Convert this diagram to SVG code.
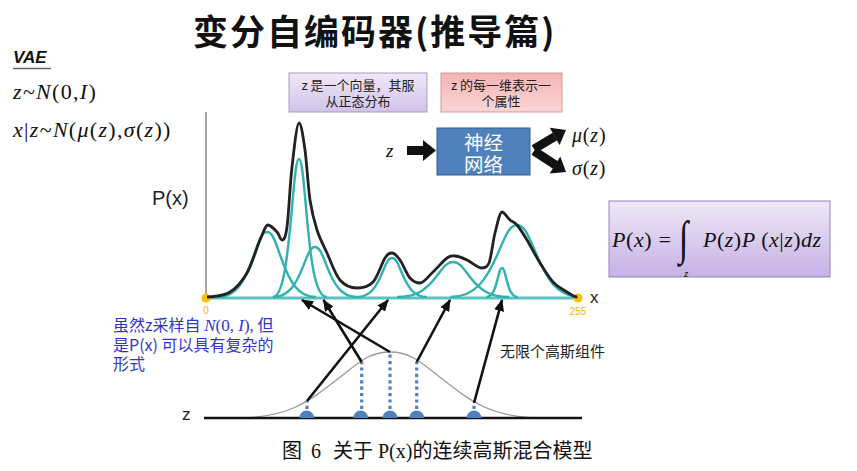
<svg xmlns="http://www.w3.org/2000/svg" width="857" height="471" viewBox="0 0 857 471">
<style>
.sans{font-family:"Liberation Sans","Noto Sans CJK SC",sans-serif}
.cjk{font-family:"Noto Sans CJK SC","Liberation Sans",sans-serif}
.math{font-family:"Liberation Serif","DejaVu Serif",serif;font-style:italic}
.up{font-style:normal}
.teal{fill:none;stroke:#31b2ad;stroke-width:2.4}
.arr{stroke:#111;stroke-width:2.6;fill:none;marker-end:url(#ah)}
.dot{stroke:#4f81bd;stroke-width:3.2;stroke-dasharray:3.2 3.2;fill:none}
.sc{fill:#4f81bd}
.boxtxt{font-size:13px;fill:#222}
</style>
<defs>
<marker id="ah" markerUnits="userSpaceOnUse" markerWidth="12" markerHeight="10" viewBox="0 0 12 10" refX="11" refY="5" orient="auto">
<path d="M0,0 L12,5 L0,10 z" fill="#111"/>
</marker>
<linearGradient id="gPur" x1="0" y1="0" x2="0" y2="1">
<stop offset="0" stop-color="#efe9f8"/><stop offset="1" stop-color="#d2c2ea"/>
</linearGradient>
<linearGradient id="gPink" x1="0" y1="0" x2="0" y2="1">
<stop offset="0" stop-color="#f5b3b3"/><stop offset="1" stop-color="#fad6d6"/>
</linearGradient>
<linearGradient id="gForm" x1="0" y1="0" x2="0" y2="1">
<stop offset="0" stop-color="#efe8f8"/><stop offset="1" stop-color="#c6b1e5"/>
</linearGradient>
</defs>
<rect width="857" height="471" fill="#ffffff"/>

<!-- title -->
<text x="193" y="45" class="cjk" font-size="35" font-weight="700" letter-spacing="2" fill="#111">变分自编码器(推导篇)</text>

<!-- left VAE text -->
<g id="vae">
<text x="13" y="63" class="sans" font-size="17" font-weight="700" font-style="italic" fill="#111">VAE</text>
<line x1="13" y1="68.5" x2="51" y2="68.5" stroke="#666" stroke-width="1.5"/>
<text x="13" y="99" class="math" font-size="22" letter-spacing="1.3" fill="#111">z<tspan class="up">~</tspan>N<tspan class="up">(0,</tspan>I<tspan class="up">)</tspan></text>
<text x="13" y="137" class="math" font-size="22" letter-spacing="1.3" fill="#111">x<tspan class="up">|</tspan>z<tspan class="up">~</tspan>N<tspan class="up">(</tspan>μ<tspan class="up">(</tspan>z<tspan class="up">),</tspan>σ<tspan class="up">(</tspan>z<tspan class="up">))</tspan></text>
</g>

<!-- top boxes -->
<g id="box-normal">
<rect x="289" y="73" width="138" height="39" fill="url(#gPur)" stroke="#a99bc6" stroke-width="1"/>
<text x="358" y="90" class="cjk boxtxt" text-anchor="middle">z 是一个向量，其服</text>
<text x="358" y="105.5" class="cjk boxtxt" text-anchor="middle">从正态分布</text>
</g>
<g id="box-attr">
<rect x="441" y="73" width="121" height="39" fill="url(#gPink)" stroke="#d49a9a" stroke-width="1"/>
<text x="501" y="90" class="cjk boxtxt" text-anchor="middle">z 的每一维表示一</text>
<text x="501" y="105.5" class="cjk boxtxt" text-anchor="middle">个属性</text>
</g>

<!-- neural network -->
<g id="nn">
<text x="386" y="157" class="math" font-size="19" fill="#111">z</text>
<polygon points="407,146 423,146 423,140 436,150.5 423,161 423,155 407,155" fill="#111"/>
<rect x="437" y="128" width="93" height="47" fill="#4f81bd" stroke="#385d8a" stroke-width="1"/>
<text x="483.5" y="150" class="cjk" font-size="19.5" fill="#ffffff" text-anchor="middle">神经</text>
<text x="483.5" y="172" class="cjk" font-size="19.5" fill="#ffffff" text-anchor="middle">网络</text>
<line x1="534" y1="149" x2="555" y2="136.5" stroke="#111" stroke-width="9"/>
<polygon points="566,130 559.6,145.1 549.8,127.7" fill="#111"/>
<line x1="534" y1="151" x2="555.5" y2="165" stroke="#111" stroke-width="9"/>
<polygon points="566,172 560.3,156.6 549.7,173.6" fill="#111"/>
<text x="572" y="142" class="math" font-size="20" letter-spacing="0.8" fill="#111">μ<tspan class="up">(</tspan>z<tspan class="up">)</tspan></text>
<text x="572" y="175" class="math" font-size="20" letter-spacing="0.8" fill="#111">σ<tspan class="up">(</tspan>z<tspan class="up">)</tspan></text>
</g>

<!-- formula box -->
<g id="formula">
<rect x="609" y="201" width="221" height="76" fill="url(#gForm)" stroke="#9485bb" stroke-width="1"/>
<text x="612" y="247" class="math" font-size="22" letter-spacing="0.6" fill="#111">P<tspan class="up">(</tspan>x<tspan class="up">) =</tspan></text>
<text x="679" y="262" class="math" font-size="34" transform="translate(0,-112.8) scale(1,1.4)" fill="#111" style="font-style:normal">∫</text>
<text x="684" y="277" class="math" font-size="11" fill="#111">z</text>
<text x="703" y="247" class="math" font-size="22" letter-spacing="0.5" fill="#111">P<tspan class="up">(</tspan>z<tspan class="up">)</tspan>P <tspan class="up">(</tspan>x<tspan class="up">|</tspan>z<tspan class="up">)</tspan>dz</text>
</g>

<!-- chart axes -->
<g id="axes">
<line x1="206" y1="112" x2="206" y2="298" stroke="#888" stroke-width="1.5"/>
<line x1="206" y1="298" x2="578" y2="298" stroke="#5cc2be" stroke-width="3"/>
<circle cx="206" cy="298" r="4.5" fill="#ffc000"/>
<circle cx="578" cy="298" r="4.5" fill="#ffc000"/>
<text x="206" y="314" class="sans" font-size="10" fill="#f0b400" text-anchor="middle">0</text>
<text x="578" y="315" class="sans" font-size="10" fill="#f0b400" text-anchor="middle">255</text>
<text x="590" y="303" class="sans" font-size="17" fill="#222">x</text>
<text x="152" y="205" class="sans" font-size="20" fill="#222">P(x)</text>
</g>

<!-- component gaussians -->
<g id="components">
<path class="teal" d="M218,297 C236.2,297 244.6,281.2 253,257.5 C258.6,241.7 261.4,232 267,232 C272.6,232 275.4,241.7 281,257.5 C289.4,281.2 297.8,297 316,297"/>
<path class="teal" d="M272.8,297 C282.5,297 287,263.5 291.5,213.2 C294.5,179.7 296,159 299,159 C302,159 303.5,179.7 306.5,213.2 C311,263.5 315.5,297 327,297"/>
<path class="teal" d="M273,297 C288.6,297 295.8,284.8 303,266.6 C307.8,254.5 310.2,247 315,247 C319.8,247 322.2,254.5 327,266.6 C334.2,284.8 341.4,297 357,297"/>
<path class="teal" d="M357,297 C370,297 376,287.5 382,273.3 C386,263.8 388,258 392,258 C396,258 398,263.8 402,273.3 C408,287.5 414,297 427,297"/>
<path class="teal" d="M397,297 C417.8,297 427.4,288.5 437,275.8 C443.4,267.2 446.6,262 453,262 C459.4,262 462.6,267.2 469,275.8 C478.6,288.5 488.2,297 509,297"/>
<path class="teal" d="M486.3,297 C492.1,297 494.8,290 497.5,279.4 C499.3,272.3 500.2,268 502,268 C503.8,268 504.7,272.3 506.5,279.4 C509.2,290 511.9,297 517.8,297"/>
<path class="teal" d="M450.5,297 C475.2,297 486.6,279.5 498,253.3 C505.6,235.8 509.4,225 517,225 C524.6,225 528.4,235.8 536,253.3 C547.4,279.5 556,295 578,297"/>
</g>

<!-- mixture curve -->
<path id="mixture" fill="none" stroke="#222" stroke-width="2.8" stroke-linejoin="round" d="M207,297 C211,297 223.3,296 230,292 C236.7,288 242,281.7 247,273 C252,264.3 256.5,248 260,240 C263.5,232 265.5,225 268,225 C270.5,225 274.7,229.5 277,232 C279.3,234.5 280.3,240 282,240 C283.7,240 285.3,239.2 287,227 C288.7,214.8 290,184.3 292,167 C294,149.7 296.8,123 299,123 C301.2,123 303.2,137.2 305,150 C306.8,162.8 308,186.7 310,200 C312,213.3 314.2,221.2 317,230 C319.8,238.8 323.2,244.7 327,253 C330.8,261.3 335,274.2 340,280 C345,285.8 351.5,288 357,288 C362.5,288 368.3,287 373,282 C377.7,277 381.8,262.8 385,258 C388.2,253.2 389.5,253 392,253 C394.5,253 397,255.8 400,260 C403,264.2 406.7,274.2 410,278 C413.3,281.8 416.2,283 420,283 C423.8,283 428.5,276.2 433,272 C437.5,267.8 443.3,260.7 447,258 C450.7,255.3 451.7,256 455,256 C458.3,256 462.8,258 467,260 C471.2,262 478,268 481,268 C484,268 486.7,268 489,263 C491.3,257.2 492.8,241.5 495,233 C497.2,224.5 499.7,212 502,212 C504.3,212 507.5,217.8 510,220 C512.5,222.2 514.2,221.7 517,225 C519.8,228.3 523.2,233.7 527,240 C530.8,246.3 535.7,256 540,263 C544.3,270 548.5,277.2 553,282 C557.5,286.8 563,289.5 567,292 C571,294.5 574,297 577,297"/>

<!-- blue annotation -->
<g id="note-blue" fill="#3434c8">
<text x="113" y="331" class="cjk" font-size="16">虽然z采样自 <tspan class="math" font-size="17">N</tspan><tspan class="math up" font-size="17" style="font-style:normal">(0, </tspan><tspan class="math" font-size="17">I</tspan><tspan class="math" font-size="17" style="font-style:normal">),</tspan> 但</text>
<text x="113" y="351" class="cjk" font-size="16">是P(x) 可以具有复杂的</text>
<text x="113" y="370" class="cjk" font-size="16">形式</text>
</g>

<text id="note-inf" x="500" y="357" class="cjk" font-size="15" fill="#222">无限个高斯组件</text>

<!-- latent gaussian and z axis -->
<g id="latent">
<path d="M237,418 C288,418 308.4,402 339,378 C359.4,361.9 369.6,352 390,352 C410.4,352 420.6,361.9 441,378 C471.6,402 492,418 543,418" fill="none" stroke="#9a9a9a" stroke-width="1.3"/>
<line x1="204" y1="418" x2="582" y2="418" stroke="#111" stroke-width="2.5"/>
<text x="182" y="420" class="sans" font-size="17" fill="#222">z</text>
<path class="sc" d="M299.2,418 A7.5,7.5 0 0 1 314.2,418 z"/>
<path class="sc" d="M353.2,418 A7.5,7.5 0 0 1 368.2,418 z"/>
<path class="sc" d="M382.5,418 A7.5,7.5 0 0 1 397.5,418 z"/>
<path class="sc" d="M409.2,418 A7.5,7.5 0 0 1 424.2,418 z"/>
<path class="sc" d="M466.5,418 A7.5,7.5 0 0 1 481.5,418 z"/>
</g>

<!-- connectors -->
<g id="connectors">
<line class="dot" x1="307" y1="409" x2="307" y2="401"/>
<line class="dot" x1="361.7" y1="409" x2="361.7" y2="362"/>
<line class="dot" x1="390" y1="409" x2="390" y2="352"/>
<line class="dot" x1="416.7" y1="409" x2="416.7" y2="362"/>
<line class="dot" x1="474" y1="409" x2="474" y2="403"/>
<line class="arr" x1="307" y1="401" x2="388" y2="300"/>
<line class="arr" x1="361.7" y1="362" x2="323.5" y2="300"/>
<line class="arr" x1="390" y1="352" x2="302" y2="300"/>
<line class="arr" x1="416.7" y1="362" x2="450" y2="300"/>
<line class="arr" x1="474" y1="403" x2="502" y2="300"/>
</g>

<!-- caption -->
<text y="458" font-family="Liberation Serif, Noto Sans CJK SC, serif" font-size="20" fill="#111"><tspan x="282">图</tspan><tspan x="311">6</tspan><tspan x="333">关于 P(x)的连续高斯混合模型</tspan></text>
</svg>
